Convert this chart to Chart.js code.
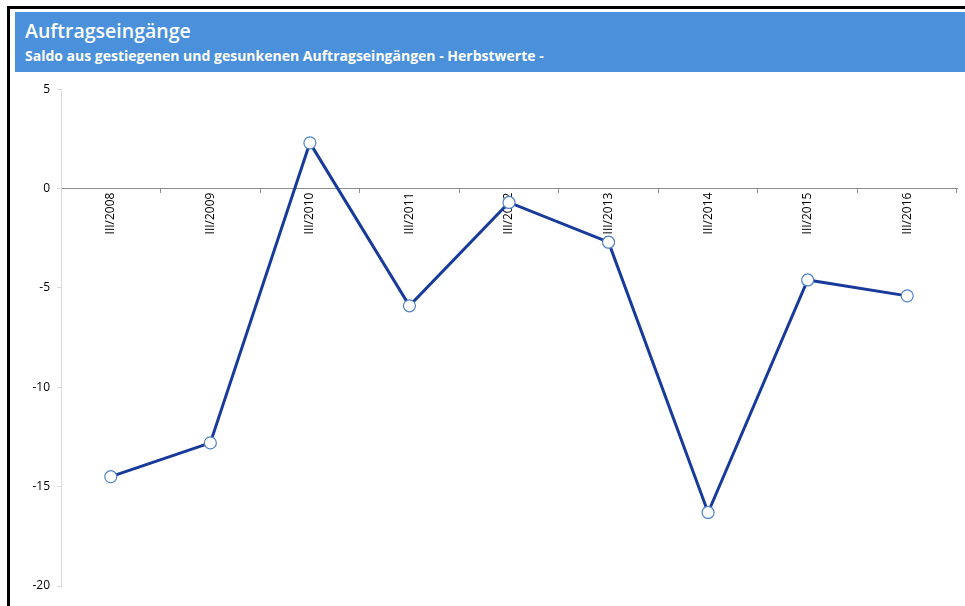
<!DOCTYPE html>
<html lang="de">
<head>
<meta charset="utf-8">
<title>Auftragseingänge</title>
<script src="https://cdn.jsdelivr.net/npm/chart.js@4.4.1/dist/chart.umd.min.js"></script>
<style>
  html, body { margin: 0; padding: 0; background: #fff; overflow: hidden; }
  #rahmen {
    position: absolute; left: 7px; top: 6px; width: 1000px; height: 700px;
    border-left: 3px solid #000; border-top: 3px solid #000;
  }
  #kopf {
    position: absolute; left: 15px; top: 12px; width: 990px; height: 60px;
    background: #4a90da; color: #fff; font-family: "Open Sans", sans-serif;
  }
  #kopf h1 { margin: 0; position: absolute; left: 10px; top: 5px; font-size: 19.5px; font-weight: 600; }
  #kopf h2 { margin: 0; position: absolute; left: 10px; top: 34px; font-size: 14px; font-weight: 700; }
  #grafik { position: absolute; left: 10px; top: 75px; width: 955px; height: 531px; }
</style>
</head>
<body>
<div id="rahmen"></div>
<div id="kopf">
  <h1>Auftragseingänge</h1>
  <h2>Saldo aus gestiegenen und gesunkenen Auftragseingängen - Herbstwerte -</h2>
</div>
<div id="grafik"><canvas id="myChart"></canvas></div>
<script>
let quartale = ["III/2008", "III/2009", "III/2010", "III/2011", "III/2012", "III/2013", "III/2014", "III/2015", "III/2016"];
let saldo = [-14.5, -12.8, 2.3, -5.9, -0.7, -2.7, -16.3, -4.6, -5.4];
let yMin = -20, yMax = 5, yStep = 5;

function plotarGrafico() {
    const data = {
        labels: quartale,
        datasets: [
            {
                label: "Saldo",
                data: saldo,
                borderColor: "#183a9a",
                borderWidth: 3,
                pointRadius: 6,
                pointBackgroundColor: "#ffffff",
                pointBorderColor: "#4f82c8",
                pointBorderWidth: 1.2,
                tension: 0,
            },
        ],
    }
    const config = {
        type: "line",
        data,
        options: {
            responsive: true,
            maintainAspectRatio: false,
            animation: false,
            layout: { padding: { left: 0, right: 8, top: 6, bottom: 20 } },
            plugins: {
                legend: { display: false },
                tooltip: { enabled: false },
            },
            scales: {
                x: {
                    // Kategorienachse liegt auf der Nulllinie
                    position: { y: 0 },
                    offset: true,
                    border: { color: "#8c8c8c", width: 1 },
                    grid: { offset: true, drawOnChartArea: false, tickLength: 4, color: "#8c8c8c" },
                    ticks: {
                        minRotation: 90,
                        maxRotation: 90,
                        padding: 0,
                        color: "#000",
                        font: { family: "Open Sans", size: 12 },
                    },
                },
                y: {
                    min: yMin,
                    max: yMax,
                    afterFit: (scale) => { scale.width = 51; },
                    border: { color: "#d9d9d9", width: 1 },
                    grid: { drawOnChartArea: false, tickLength: 4, color: "#d9d9d9" },
                    ticks: {
                        stepSize: yStep,
                        padding: 7,
                        color: "#000",
                        font: { family: "Open Sans", size: 12 },
                    },
                },
            },
        },
    }
    new Chart(document.getElementById("myChart").getContext("2d"), config);
}

plotarGrafico();
</script>
</body>
</html>
